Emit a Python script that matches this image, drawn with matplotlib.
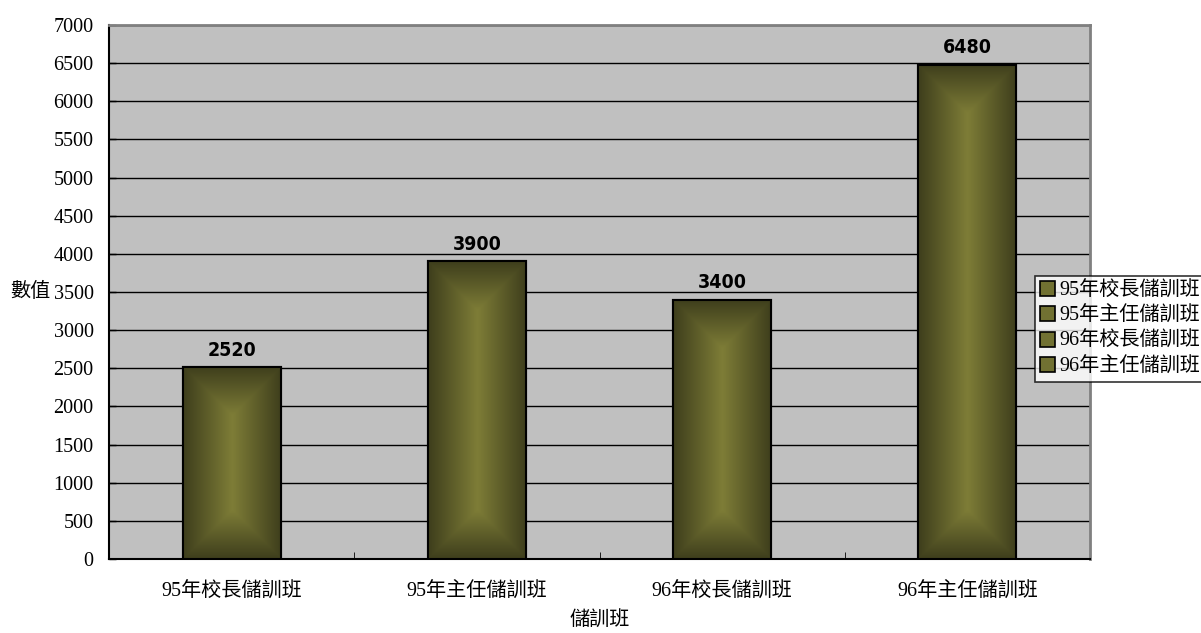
import numpy as np
import matplotlib
matplotlib.use("Agg")
import matplotlib.pyplot as plt
from matplotlib.patches import Patch

plt.rcParams['font.family'] = ['Liberation Serif', 'Noto Sans CJK TC']

# 資料
categories = ["95年校長儲訓班", "95年主任儲訓班", "96年校長儲訓班", "96年主任儲訓班"]
values = [2520, 3900, 3400, 6480]
y_ticks = list(range(0, 7001, 500))

EDGE = np.array([62, 62, 28]) / 255.0
CENTER = np.array([126, 125, 55]) / 255.0
BAR_W = 0.4
FS = 14.5

fig = plt.figure(figsize=(12.01, 6.33), dpi=100)
ax = fig.add_axes([109 / 1201, 1 - 559 / 633, 981 / 1201, 534 / 633])
ax.set_facecolor("#c0c0c0")

x = np.arange(len(categories))
bars = ax.bar(x, values, width=BAR_W, color=EDGE, edgecolor="black", linewidth=1.5, zorder=3)

ax.set_xlim(-0.5, len(categories) - 0.5)
ax.set_ylim(0, 7000)

# 漸層填色 (由中心往外)
ax_px_w = 981
ax_px_h = 534
for b in bars:
    x0, w, h = b.get_x(), b.get_width(), b.get_height()
    pw = w * ax_px_w / len(categories)
    ph = h * ax_px_h / 7000
    nx, ny = max(int(pw), 2), max(int(ph), 2)
    xx = np.linspace(0, pw, nx)
    yy = np.linspace(0, ph, ny)
    X, Y = np.meshgrid(xx, yy)
    d = np.minimum(np.minimum(X, pw - X), np.minimum(Y, ph - Y))
    t = np.clip(d / (pw / 2), 0, 1)
    img = EDGE[None, None, :] + (CENTER - EDGE)[None, None, :] * t[:, :, None]
    im = ax.imshow(img, extent=(x0, x0 + w, 0, h), aspect="auto", origin="lower",
                   interpolation="bilinear", zorder=3.5)
    im.set_clip_path(b)
    ax.add_patch(plt.Rectangle((x0, 0), w, h, fill=False, edgecolor="black",
                               linewidth=1.5, zorder=4))
    ax.text(b.get_x() + w / 2, h + 95, f"{h:.0f}", ha="center", va="bottom",
            fontsize=14, fontweight="bold", fontstretch="condensed",
            family=["DejaVu Sans"], zorder=5)

ax.set_yticks(y_ticks)
ax.set_yticklabels([str(v) for v in y_ticks], fontsize=FS)
ax.yaxis.grid(True, color="black", linewidth=1)
ax.set_axisbelow(True)

ax.set_xticks(x)
ax.set_xticklabels(categories, fontsize=FS)
ax.set_xticks(np.arange(0.5, len(categories) - 0.5, 1), minor=True)
ax.tick_params(axis="x", which="major", length=0, pad=17)
ax.tick_params(axis="x", which="minor", length=5, direction="in", color="black")
ax.tick_params(axis="y", length=5, direction="in", width=1, pad=11)

for s in ["left", "bottom"]:
    ax.spines[s].set_color("black")
    ax.spines[s].set_linewidth(1.5)
for s in ["top", "right"]:
    ax.spines[s].set_color("#808080")
    ax.spines[s].set_linewidth(2)

fig.text(10 / 1201, 1 - 292 / 633, "數值", fontsize=FS, ha="left", va="center")
fig.text(599.5 / 1201, 1 - 620 / 633, "儲訓班", fontsize=FS, ha="center", va="center")

handles = [Patch(facecolor=CENTER * 0.9, edgecolor="black", linewidth=1.2) for _ in categories]
leg = fig.legend(handles, categories, loc="upper left", bbox_to_anchor=(1035 / 1201, 1 - 276 / 633),
                 fontsize=FS, frameon=True, fancybox=False, handlelength=0.75, handleheight=0.75,
                 handletextpad=0.2, borderpad=0.25, labelspacing=0.3, borderaxespad=0)
leg.get_frame().set_edgecolor("black")
leg.get_frame().set_linewidth(1.2)

fig.savefig("out.png", dpi=100)
